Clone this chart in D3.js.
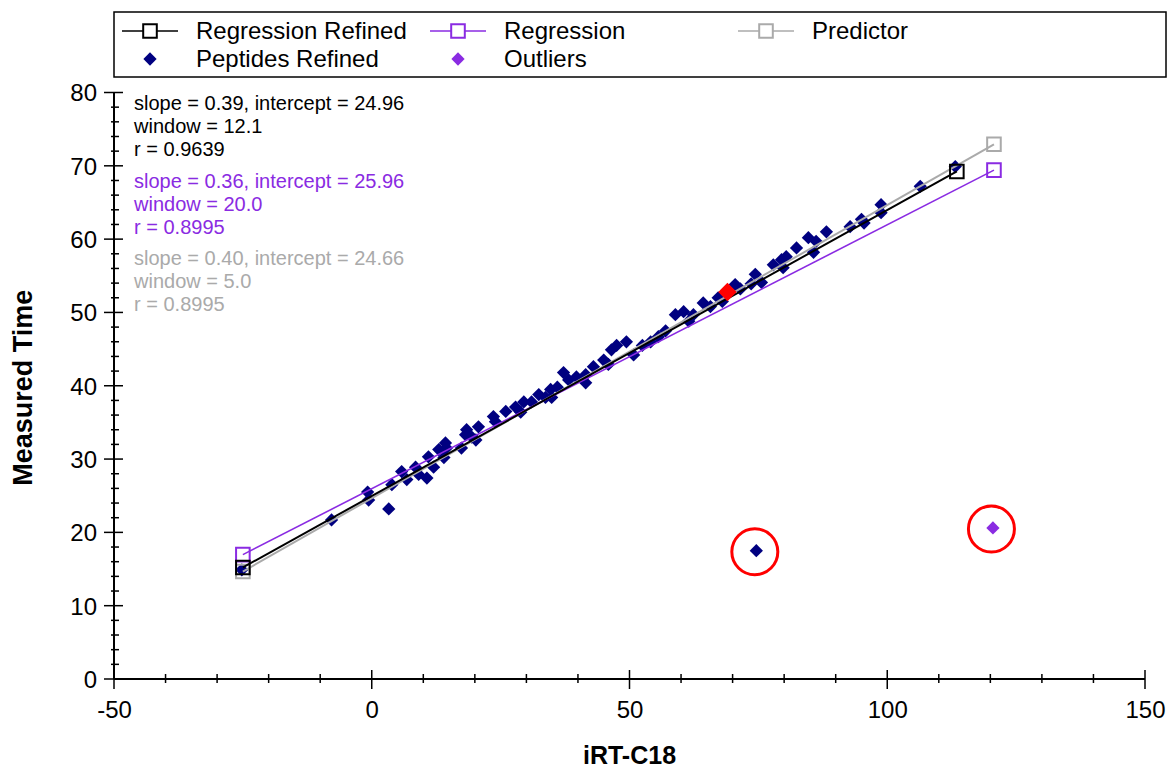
<!DOCTYPE html>
<html>
<head>
<meta charset="utf-8">
<script src="https://cdn.jsdelivr.net/npm/d3@7"></script>
<style>
  html, body { margin: 0; padding: 0; background: #fff; }
  svg { display: block; font-family: "Liberation Sans", Arial, sans-serif; }
</style>
</head>
<body>
<svg id="chart" width="1171" height="771"></svg>
<script>
// Peptide retention: iRT-C18 value vs measured time (minutes)
const peptideIrt = [
  -25.2, -7.8, -0.8, -0.6, 3.3, 3.9, 5.8, 6.8, 8.5, 9.1, 10.7, 11.0, 12.0, 13.0, 14.0,
  14.3, 14.5, 17.4, 18.2, 18.4, 19.4, 20.2, 20.7, 23.6, 24.0, 26.0, 27.9, 28.9, 29.5,
  31.0, 32.4, 33.7, 34.7, 34.9, 36.0, 37.2, 38.2, 39.7, 41.5, 41.5, 43.0, 45.0, 45.9,
  46.5, 47.5, 49.4, 50.8, 52.5, 54.1, 55.6, 57.0, 58.9, 60.5, 61.5, 62.4, 64.3, 65.7,
  67.2, 68.0, 70.5, 71.5, 73.6, 74.4, 75.6, 77.9, 79.5, 79.8, 80.4, 82.4, 84.7, 85.7,
  86.2, 88.2, 92.8, 95.0, 95.5, 98.8, 98.8, 106.4, 113.2, 74.6
];
const peptideTime = [
  14.9, 21.7, 25.5, 24.4, 23.2, 26.5, 28.3, 27.2, 28.9, 27.9, 27.4, 30.3, 28.9, 31.3, 30.2,
  32.2, 31.5, 31.5, 33.3, 34.0, 33.0, 32.6, 34.4, 35.8, 35.1, 36.5, 37.1, 36.4, 37.8,
  37.8, 38.8, 38.4, 39.5, 38.4, 39.8, 41.8, 40.8, 41.2, 40.4, 41.5, 42.6, 43.5, 42.9,
  44.9, 45.5, 46.0, 44.2, 45.5, 46.0, 46.7, 47.5, 49.7, 50.1, 48.8, 49.7, 51.3, 50.8,
  52.0, 51.5, 53.8, 53.2, 53.9, 55.2, 54.1, 56.5, 57.2, 56.1, 57.6, 58.8, 60.2, 58.2,
  59.7, 61.0, 61.7, 62.7, 62.2, 64.7, 63.6, 67.2, 69.9, 17.5
];
const outlierIrt = [120.5];
const outlierTime = [20.6];
const selectedIrt = [69.0];
const selectedTime = [52.8];
// points flagged with a red ring
const circledIrt = [74.6, 120.5];
const circledTime = [17.5, 20.6];

// fitted lines: [slope, intercept] and iRT span
const fitNames = ["Regression Refined", "Regression", "Predictor"];
const fitSlopes = [0.39, 0.36, 0.40];
const fitIntercepts = [24.96, 25.96, 24.66];
const fitStart = [-25, -25, -25];
const fitEnd = [113.5, 120.7, 120.7];
const fitWindows = ["12.1", "20.0", "5.0"];
const fitR = ["0.9639", "0.8995", "0.8995"];
const fitColors = ["#000000", "#8a2be2", "#aaaaaa"];

const xTicks = [-50, 0, 50, 100, 150];
const yTicks = [0, 10, 20, 30, 40, 50, 60, 70, 80];

const svg = d3.select("#chart");
const x = d3.scaleLinear().domain([-50, 150]).range([114, 1145]);
const y = d3.scaleLinear().domain([0, 80]).range([679, 92.5]);

const navy = "#000080";
const purple = "#8a2be2";
const plainNumber = d => String(d);

// ---- axes ----
const axisG = svg.append("g");
axisG.append("line")
  .attr("x1", x(-50)).attr("x2", x(-50)).attr("y1", y(0)).attr("y2", y(80))
  .attr("stroke", "#000").attr("stroke-width", 2);
axisG.append("line")
  .attr("x1", x(-50)).attr("x2", x(150)).attr("y1", y(0)).attr("y2", y(0))
  .attr("stroke", "#000").attr("stroke-width", 2);

// y ticks: major every 10, minor every 2
d3.range(0, 80.01, 2).forEach(v => {
  const major = v % 10 === 0;
  axisG.append("line")
    .attr("x1", x(-50) - (major ? 10 : 3)).attr("x2", x(-50) + (major ? 9 : 5))
    .attr("y1", y(v)).attr("y2", y(v))
    .attr("stroke", "#000").attr("stroke-width", 1.5);
});
// x ticks: major every 50, minor every 10
d3.range(-50, 150.01, 10).forEach(v => {
  const major = v % 50 === 0;
  axisG.append("line")
    .attr("x1", x(v)).attr("x2", x(v))
    .attr("y1", y(0) - (major ? 9 : 5)).attr("y2", y(0) + (major ? 10 : 4))
    .attr("stroke", "#000").attr("stroke-width", 1.5);
});

const yAxis = d3.axisLeft(y).tickValues(yTicks).tickSize(0).tickPadding(0).tickFormat(plainNumber);
const yg = svg.append("g").attr("transform", `translate(${x(-50) - 17},0)`).call(yAxis);
yg.select(".domain").remove();
yg.selectAll("text").attr("font-size", 24).attr("fill", "#000")
  .attr("font-family", "Liberation Sans, Arial, sans-serif").attr("dy", "0.35em");

const xAxis = d3.axisBottom(x).tickValues(xTicks).tickSize(0).tickPadding(0).tickFormat(plainNumber);
const xg = svg.append("g").attr("transform", `translate(0,${y(0) + 22})`).call(xAxis);
xg.select(".domain").remove();
xg.selectAll("text").attr("font-size", 24).attr("fill", "#000")
  .attr("font-family", "Liberation Sans, Arial, sans-serif").attr("dy", "0.71em");

svg.append("text").text("iRT-C18")
  .attr("x", x(50)).attr("y", 764).attr("text-anchor", "middle")
  .attr("font-size", 25).attr("font-weight", "bold");
svg.append("text").text("Measured Time")
  .attr("transform", `translate(32,${y(40) + 2}) rotate(-90)`).attr("text-anchor", "middle")
  .attr("font-size", 27).attr("font-weight", "bold");

// ---- marks ----
const diamond = d3.symbol().type(d3.symbolSquare).size(88);
const bigDiamond = d3.symbol().type(d3.symbolSquare).size(170);
const openSquare = d3.symbol().type(d3.symbolSquare).size(185);

svg.append("g").selectAll("path").data(peptideIrt).join("path")
  .attr("d", diamond)
  .attr("transform", (d, i) => `translate(${x(d)},${y(peptideTime[i])}) rotate(45)`)
  .attr("fill", navy);

svg.append("g").selectAll("path").data(outlierIrt).join("path")
  .attr("d", diamond)
  .attr("transform", (d, i) => `translate(${x(d)},${y(outlierTime[i])}) rotate(45)`)
  .attr("fill", purple);

// regression lines, drawn back to front
const lineOrder = [2, 1, 0];
lineOrder.forEach(k => {
  const xs = [fitStart[k], fitEnd[k]];
  const pts = xs.map(v => [x(v), y(fitSlopes[k] * v + fitIntercepts[k])]);
  svg.append("path").attr("d", d3.line()(pts))
    .attr("fill", "none").attr("stroke", fitColors[k]).attr("stroke-width", k === 1 ? 1.6 : 2);
  svg.append("g").selectAll("path").data(pts).join("path")
    .attr("d", openSquare)
    .attr("transform", p => `translate(${p[0]},${p[1]})`)
    .attr("fill", "none").attr("stroke", fitColors[k]).attr("stroke-width", 2);
});

svg.append("g").selectAll("path").data(selectedIrt).join("path")
  .attr("d", bigDiamond)
  .attr("transform", (d, i) => `translate(${x(d)},${y(selectedTime[i])}) rotate(45)`)
  .attr("fill", "#ff0000");

svg.append("g").selectAll("circle").data(circledIrt).join("circle")
  .attr("cx", d => x(d) - 1.5).attr("cy", (d, i) => y(circledTime[i]) + 1)
  .attr("r", 23).attr("fill", "none").attr("stroke", "#ff0000").attr("stroke-width", 3);

// ---- fit statistics ----
const statsG = svg.append("g").attr("font-size", 20);
fitNames.forEach((n, k) => {
  const top = 103 + k * 77.5;
  const lines = [
    `slope = ${fitSlopes[k].toFixed(2)}, intercept = ${fitIntercepts[k].toFixed(2)}`,
    `window = ${fitWindows[k]}`,
    `r = ${fitR[k]}`
  ];
  lines.forEach((t, j) => {
    statsG.append("text").text(t)
      .attr("x", 134).attr("y", top + j * 23.2).attr("dy", "0.35em")
      .attr("fill", fitColors[k]);
  });
});

// ---- legend ----
const legend = svg.append("g");
legend.append("rect").attr("x", 114).attr("y", 12).attr("width", 1052).attr("height", 65)
  .attr("fill", "#fff").attr("stroke", "#000").attr("stroke-width", 1.5);

const legendCols = [150, 458, 766];
fitNames.forEach((n, k) => {
  const cx = legendCols[k], cy = 31;
  legend.append("line").attr("x1", cx - 28).attr("x2", cx + 28).attr("y1", cy).attr("y2", cy)
    .attr("stroke", fitColors[k]).attr("stroke-width", 1.6);
  legend.append("path").attr("d", openSquare).attr("transform", `translate(${cx},${cy})`)
    .attr("fill", "#fff").attr("stroke", fitColors[k]).attr("stroke-width", 2);
  legend.append("text").text(n).attr("x", cx + 46).attr("y", cy).attr("dy", "0.35em")
    .attr("font-size", 24);
});
const pointLegend = [["Peptides Refined", navy], ["Outliers", purple]];
pointLegend.forEach(([n, c], k) => {
  const cx = legendCols[k], cy = 59;
  legend.append("path").attr("d", diamond).attr("transform", `translate(${cx},${cy}) rotate(45)`)
    .attr("fill", c);
  legend.append("text").text(n).attr("x", cx + 46).attr("y", cy).attr("dy", "0.35em")
    .attr("font-size", 24);
});
</script>
</body>
</html>
